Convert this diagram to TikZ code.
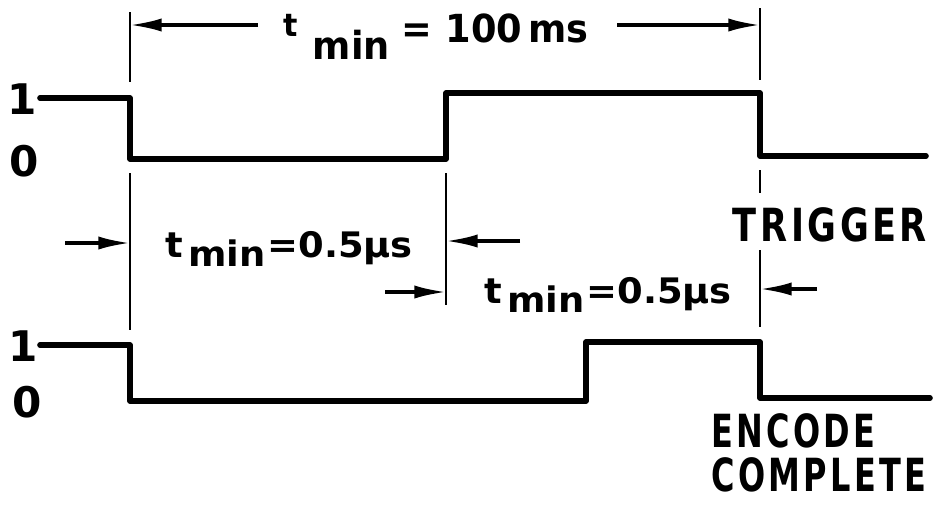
\documentclass[tikz,border=0pt]{standalone}
\usepackage{fontspec}
\setmainfont{DejaVu Sans}
\usetikzlibrary{arrows.meta}

\begin{document}
\begin{tikzpicture}[
    x=0.02cm,
    y=-0.02cm,
    >={Latex[length=18pt,width=7.5pt]},
    wave/.style={
        line width=3.2pt,
        line join=round,
        line cap=round
    },
    ext/.style={
        line width=1.2pt
    },
    dim/.style={
        ->,
        line width=1.8pt
    },
    level/.style={
        inner sep=0pt,
        font=\fontsize{24}{24}\selectfont\bfseries
    },
    signame/.style={
        inner sep=0pt,
        align=left,
        font=\fontsize{26}{25}\selectfont\bfseries\addfontfeature{LetterSpace=10}
    },
    shortlbl/.style={
        inner sep=0pt,
        xscale=1.05,
        font=\fontsize{20}{20}\selectfont\bfseries
    },
    longlbl/.style={
        inner sep=0pt,
        xscale=0.95,
        font=\fontsize{22}{22}\selectfont\bfseries
    }
]

    \path[use as bounding box, fill=white] (0,0) rectangle (942,504);

    % trigger and encode complete waveforms
    \draw[wave] (40,98) -- (130,98) -- (130,159) -- (446,159)
        -- (446,93) -- (760,93) -- (760,156) -- (926,156);
    \draw[wave] (40,345) -- (130,345) -- (130,401) -- (586,401)
        -- (586,342) -- (760,342) -- (760,398) -- (930,398);

    % logic levels
    \node[level] (trig one)  at (22,99)  {1};
    \node[level] (trig zero) at (24,161) {0};
    \node[level] (enc one)   at (23,346) {1};
    \node[level] (enc zero)  at (27,402) {0};

    % signal names
    \node[signame, xscale=0.77] (trigger) at (830,225) {TRIGGER};
    \node[signame, xscale=0.7]  (encode)  at (819,453) {ENCODE\\COMPLETE};

    % extension lines
    \draw[ext] (130,12) -- (130,82);
    \draw[ext] (760,8) -- (760,80);
    \draw[ext] (130,173) -- (130,330);
    \draw[ext] (446,173) -- (446,305);
    \draw[ext] (760,170) -- (760,193);
    \draw[ext] (760,250) -- (760,327);

    % timing labels
    \node[longlbl] (tlong) at (436,37)
        {\raisebox{3.5pt}{\fontsize{18}{18}\selectfont t}\hspace{9pt}%
         \raisebox{-9.6pt}{min}\hspace{7pt}=\hspace{8pt}100\,ms};
    \node[shortlbl] (tfirst) at (289,249)
        {t\hspace{3pt}\raisebox{-5.5pt}{min}\hspace{1pt}=0.5µs};
    \node[shortlbl] (tsecond) at (608,295)
        {t\hspace{3pt}\raisebox{-5.5pt}{min}\hspace{1pt}=0.5µs};

    % dimension arrows
    \coordinate (long left tail)  at (258,25);
    \coordinate (long left tip)   at (130,25);
    \coordinate (long right tail) at (617,25);
    \coordinate (long right tip)  at (760,25);
    \draw[dim] (long left tail) -- (long left tip);
    \draw[dim] (long right tail) -- (long right tip);

    \coordinate (first left tail)  at (65,243);
    \coordinate (first left tip)   at (130,243);
    \coordinate (first right tail) at (520,241);
    \coordinate (first right tip)  at (446,241);
    \draw[dim] (first left tail) -- (first left tip);
    \draw[dim] (first right tail) -- (first right tip);

    \coordinate (second left tail)  at (385,292);
    \coordinate (second left tip)   at (446,292);
    \coordinate (second right tail) at (817,289);
    \coordinate (second right tip)  at (760,289);
    \draw[dim] (second left tail) -- (second left tip);
    \draw[dim] (second right tail) -- (second right tip);

\end{tikzpicture}
\end{document}
